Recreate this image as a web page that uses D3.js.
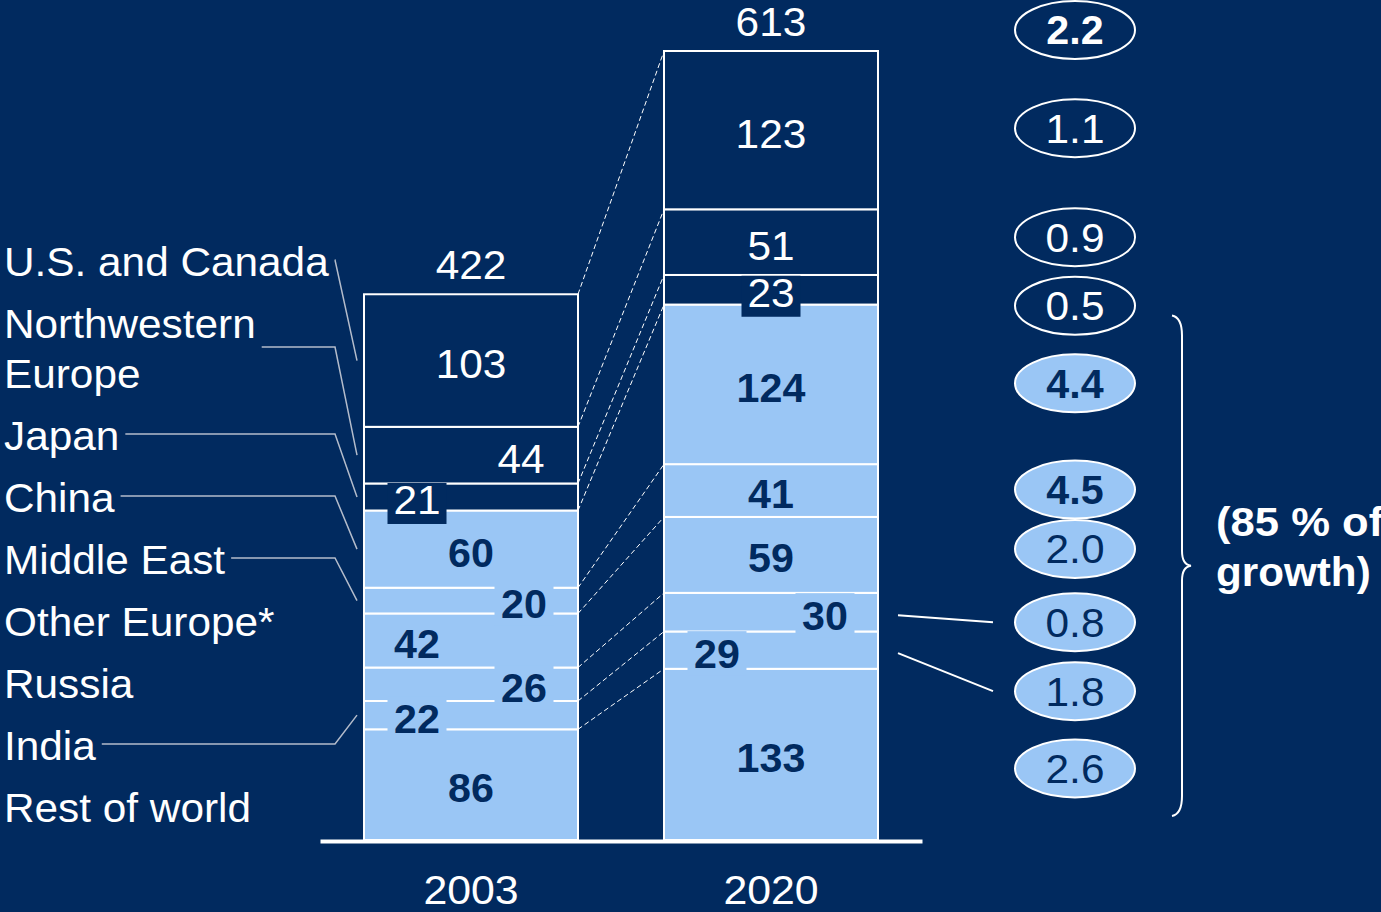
<!DOCTYPE html>
<html>
<head>
<meta charset="utf-8">
<script src="https://cdn.jsdelivr.net/npm/d3@7"></script>
<style>
  body { margin: 0; background: #012a5f; }
  text { font-family: "Liberation Sans", Arial, sans-serif; }
</style>
</head>
<body>
<script>
// data, stacked from the bottom up
let regions = ["Rest of world", "India", "Russia", "Other Europe*", "Middle East",
               "China", "Japan", "Northwestern Europe", "U.S. and Canada"];
let years = ["2003", "2020"];
let values2003 = [86, 22, 26, 42, 20, 60, 21, 44, 103];
let values2020 = [133, 29, 30, 59, 41, 124, 23, 51, 123];
let totals = [422, 613];
let growthRates = ["2.6", "1.8", "0.8", "2.0", "4.5", "4.4", "0.5", "0.9", "1.1"];
let totalGrowth = "2.2";
let shareText = ["(85 % of", "growth)"];
let emergingCount = 6; // first six regions are the light ones

// layout tweaks (label nudges, which labels get a knockout box, etc.)
let labelDx = [[0, -54, 53, -54, 53, 0, -54, 50, 0],
               [0, -54, 54, 0, 0, 0, 0, 0, 0]];
let knockout = [[false, true, true, false, true, false, true, false, false],
                [false, true, true, false, false, false, true, false, false]];
let leftLeader = [false, true, false, false, true, true, true, true, true];
let ellipseDy = [14, 41, 10, -6, -1, -1, 16, -5, -2];
let boldGrowth = [false, false, false, false, true, true, false, false, false];
let rightLeader = [false, true, true, false, false, false, false, false, false];

let navy = "#012a5f";
let light = "#9ac6f5";

// the source text is drawn a little wider than plain Arial
function widen(sel, k) {
    sel.each(function() {
        let len = this.getComputedTextLength();
        d3.select(this).attr("textLength", len * k).attr("lengthAdjust", "spacingAndGlyphs");
    });
    return sel;
}

let svgWidth = 1381;
let svgHeight = 912;

let svg = d3.select("body")
    .append("svg")
    .attr("width", svgWidth)
    .attr("height", svgHeight);

svg.append("rect")
    .attr("width", svgWidth)
    .attr("height", svgHeight)
    .attr("fill", navy);

let table = years.map((yr, j) => {
    let row = { year: yr };
    regions.forEach((r, k) => { row[r] = j === 0 ? values2003[k] : values2020[k]; });
    return row;
});

let series = d3.stack().keys(regions)(table);

let x = d3.scaleBand()
    .domain(years)
    .range([320, 922])
    .paddingInner(0.2867)
    .paddingOuter(0.1467);
let bw = x.bandwidth();

let y = d3.scaleLinear()
    .domain([0, d3.max(series[series.length - 1], d => d[1])])
    .range([840, 51]);

// dashed connectors between the bars
let connectors = svg.append("g");
series.forEach(s => {
    connectors.append("line")
        .attr("x1", x(years[0]) + bw)
        .attr("y1", y(s[0][1]))
        .attr("x2", x(years[1]))
        .attr("y2", y(s[1][1]))
        .attr("stroke", "#ffffff")
        .attr("stroke-width", 1)
        .attr("stroke-dasharray", "5,3");
});

// segments
let bars = svg.append("g");
series.forEach((s, k) => {
    bars.selectAll(null)
        .data(s)
        .enter()
        .append("rect")
        .attr("x", d => x(d.data.year))
        .attr("y", d => y(d[1]))
        .attr("width", bw)
        .attr("height", d => y(d[0]) - y(d[1]))
        .attr("fill", k < emergingCount ? light : navy)
        .attr("stroke", "#ffffff")
        .attr("stroke-width", 2);
});

// segment value labels
let labels = svg.append("g");
series.forEach((s, k) => {
    s.forEach((d, j) => {
        let cx = x(d.data.year) + bw / 2 + labelDx[j][k];
        let cy = (y(d[0]) + y(d[1])) / 2 + 3;
        let isLight = k < emergingCount;
        if (knockout[j][k]) {
            labels.append("rect")
                .attr("x", cx - 29.5)
                .attr("y", isLight ? cy - 22 : cy - 17)
                .attr("width", 59)
                .attr("height", isLight ? 44 : 41)
                .attr("fill", isLight ? light : navy);
        }
        let t = labels.append("text")
            .attr("x", cx)
            .attr("y", cy)
            .attr("dy", "0.36em")
            .attr("text-anchor", "middle")
            .attr("font-size", 40)
            .attr("font-weight", isLight ? "bold" : "normal")
            .attr("fill", isLight ? navy : "#ffffff")
            .text(d.data[regions[k]]);
        widen(t, isLight ? 1.03 : 1.06);
    });
});

// totals above bars
years.forEach((yr, j) => {
    let t = svg.append("text")
        .attr("x", x(yr) + bw / 2)
        .attr("y", y(d3.max(series[series.length - 1], d => d.data.year === yr ? d[1] : 0)) - 15)
        .attr("text-anchor", "middle")
        .attr("font-size", 40)
        .attr("fill", "#ffffff")
        .text(totals[j]);
    widen(t, 1.06);
});

// x axis
let bottomAxis = d3.axisBottom(x).tickSize(0).tickSizeOuter(0).tickPadding(35);
let axisG = svg.append("g")
    .attr("transform", `translate(0, ${y(0) + 1})`)
    .call(bottomAxis);
axisG.select(".domain")
    .attr("stroke", "#ffffff")
    .attr("stroke-width", 4);
axisG.selectAll("text")
    .attr("font-size", 40)
    .attr("fill", "#ffffff")
    .style("font-family", '"Liberation Sans", Arial, sans-serif');
widen(axisG.selectAll("text"), 1.07);

// left region labels with leader lines
let legend = svg.append("g");
let cur = 822;
let barLeft = x(years[0]);
regions.forEach((r, k) => {
    let lines = r.length > 16 ? r.split(" ") : [r];
    let firstBase = cur - 50 * (lines.length - 1);
    let t = legend.append("text")
        .attr("font-size", 40.5)
        .attr("fill", "#ffffff");
    let firstLen = 0;
    lines.forEach((ln, i) => {
        let sp = t.append("tspan")
            .attr("x", 4)
            .attr("y", firstBase + 50 * i)
            .text(ln);
        let len = sp.node().getComputedTextLength() * 1.045;
        sp.attr("textLength", len).attr("lengthAdjust", "spacingAndGlyphs");
        if (i === 0) firstLen = len;
    });
    if (leftLeader[k]) {
        let endX = 4 + firstLen + 6;
        let ly = lines.length > 1 ? firstBase + 9 : firstBase - 16;
        let d = series[k][0];
        let my = (y(d[0]) + y(d[1])) / 2;
        let bend = barLeft - 29;
        legend.append("polyline")
            .attr("points", [[Math.min(endX, bend), ly], [bend, ly], [barLeft - 7, my]].join(" "))
            .attr("fill", "none")
            .attr("stroke", "#b4bccb")
            .attr("stroke-width", 1.5);
    }
    cur = firstBase - 62;
});

// growth ellipses on the right
let ellipseX = 1075;
let rx = 60, ry = 29;
let growth = svg.append("g");
function addEllipse(cy, label, fill, textFill, bold) {
    growth.append("ellipse")
        .attr("cx", ellipseX)
        .attr("cy", cy)
        .attr("rx", rx)
        .attr("ry", ry)
        .attr("fill", fill)
        .attr("stroke", "#ffffff")
        .attr("stroke-width", 2);
    let t = growth.append("text")
        .attr("x", ellipseX)
        .attr("y", cy)
        .attr("dy", "0.36em")
        .attr("text-anchor", "middle")
        .attr("font-size", 40)
        .attr("font-weight", bold ? "bold" : "normal")
        .attr("fill", textFill)
        .text(label);
    widen(t, bold ? 1.03 : 1.06);
}

let barRight = x(years[1]) + bw;
series.forEach((s, k) => {
    let d = s[1];
    let mid = (y(d[0]) + y(d[1])) / 2;
    let cy = mid + ellipseDy[k];
    let isLight = k < emergingCount;
    addEllipse(cy, growthRates[k], isLight ? light : navy, isLight ? navy : "#ffffff", boldGrowth[k]);
    if (rightLeader[k]) {
        growth.append("line")
            .attr("x1", barRight + 20)
            .attr("y1", mid + 3)
            .attr("x2", ellipseX - rx - 22)
            .attr("y2", cy)
            .attr("stroke", "#ffffff")
            .attr("stroke-width", 2);
    }
});
addEllipse(y(totals[1]) - 21, totalGrowth, navy, "#ffffff", true);

// brace over the emerging regions
let braceTop = y(d3.sum(values2020.slice(0, emergingCount))) + 11;
let braceBot = y(0) - 24;
let braceMid = (braceTop + braceBot) / 2;
let bx0 = 1172, bx1 = 1182, bx2 = 1191;
svg.append("path")
    .attr("d", `M${bx0},${braceTop} Q${bx1},${braceTop + 2} ${bx1},${braceTop + 20}
                L${bx1},${braceMid - 15} Q${bx1},${braceMid - 1} ${bx2},${braceMid}
                Q${bx1},${braceMid + 1} ${bx1},${braceMid + 15}
                L${bx1},${braceBot - 20} Q${bx1},${braceBot - 2} ${bx0},${braceBot}`)
    .attr("fill", "none")
    .attr("stroke", "#ffffff")
    .attr("stroke-width", 2);

shareText.forEach((ln, i) => {
    let t = svg.append("text")
        .attr("x", 1216)
        .attr("y", 536 + 50 * i)
        .attr("font-size", 40)
        .attr("font-weight", "bold")
        .attr("fill", "#ffffff")
        .text(ln);
    widen(t, i === 0 ? 1.09 : 1.055);
});
</script>
</body>
</html>
